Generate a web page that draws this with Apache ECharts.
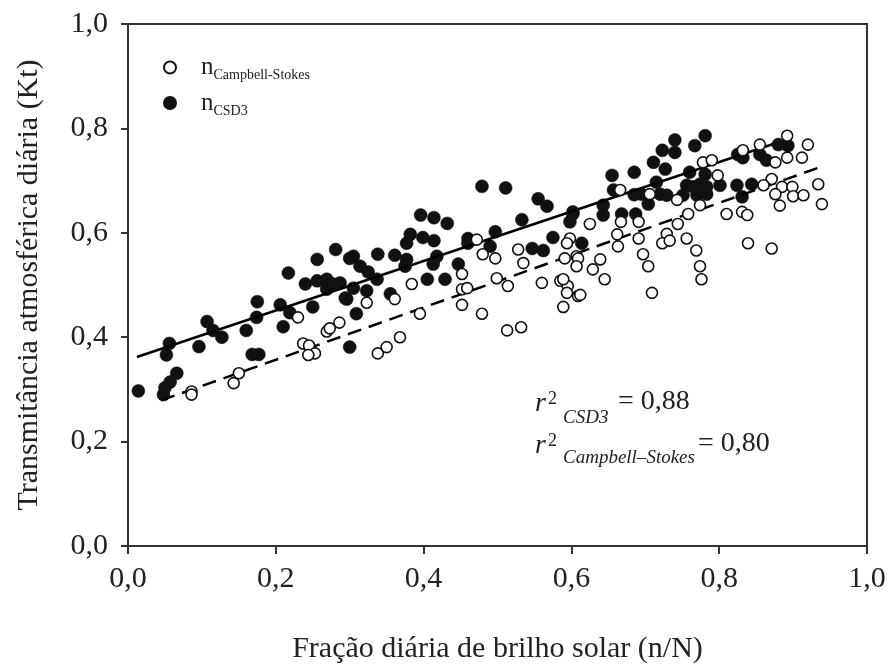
<!DOCTYPE html>
<html>
<head>
<meta charset="utf-8">
<script src="https://cdn.jsdelivr.net/npm/echarts@6/dist/echarts.min.js"></script>
<style>
  html, body { margin: 0; padding: 0; background: #fff; }
  #chart { width: 891px; height: 669px; }
</style>
</head>
<body>
<div id="chart"></div>
<script>
// n/N (x) vs Kt (y)
const csd3Points = [
  [0.014, 0.297], [0.048, 0.290], [0.050, 0.303], [0.057, 0.314], [0.066, 0.331], [0.052, 0.366],
  [0.056, 0.388], [0.096, 0.382], [0.107, 0.430], [0.115, 0.413], [0.127, 0.400], [0.160, 0.413],
  [0.168, 0.367], [0.177, 0.367], [0.174, 0.438], [0.175, 0.468], [0.206, 0.462], [0.219, 0.447],
  [0.210, 0.420], [0.250, 0.458], [0.217, 0.523], [0.240, 0.502], [0.256, 0.508], [0.256, 0.549],
  [0.281, 0.568], [0.269, 0.511], [0.277, 0.502], [0.287, 0.504], [0.269, 0.492], [0.296, 0.473],
  [0.300, 0.551], [0.300, 0.381], [0.305, 0.555], [0.314, 0.536], [0.325, 0.525], [0.337, 0.511],
  [0.338, 0.559], [0.361, 0.557], [0.377, 0.549], [0.375, 0.536], [0.305, 0.494], [0.323, 0.489],
  [0.294, 0.475], [0.355, 0.483], [0.309, 0.445], [0.382, 0.597], [0.377, 0.580], [0.399, 0.591],
  [0.414, 0.585], [0.396, 0.634], [0.414, 0.629], [0.432, 0.618], [0.418, 0.555], [0.413, 0.540],
  [0.447, 0.540], [0.405, 0.511], [0.429, 0.511], [0.460, 0.589], [0.460, 0.580], [0.479, 0.689],
  [0.511, 0.686], [0.497, 0.602], [0.490, 0.574], [0.533, 0.625], [0.555, 0.665], [0.567, 0.651],
  [0.575, 0.591], [0.547, 0.570], [0.562, 0.566], [0.602, 0.636], [0.598, 0.621], [0.602, 0.640],
  [0.614, 0.580], [0.643, 0.653], [0.643, 0.634], [0.668, 0.636], [0.687, 0.636], [0.655, 0.710],
  [0.685, 0.716], [0.657, 0.682], [0.685, 0.673], [0.695, 0.674], [0.704, 0.655], [0.711, 0.735],
  [0.727, 0.722], [0.715, 0.697], [0.720, 0.674], [0.729, 0.672], [0.723, 0.758], [0.740, 0.778],
  [0.740, 0.754], [0.781, 0.786], [0.767, 0.767], [0.760, 0.716], [0.756, 0.691], [0.765, 0.688],
  [0.774, 0.693], [0.781, 0.712], [0.783, 0.688], [0.801, 0.691], [0.751, 0.672], [0.770, 0.672],
  [0.783, 0.674], [0.825, 0.750], [0.832, 0.744], [0.855, 0.750], [0.864, 0.739], [0.880, 0.769],
  [0.893, 0.767], [0.824, 0.691], [0.831, 0.669], [0.844, 0.693]
]

const campbellPoints = [
  [0.086, 0.296], [0.086, 0.290], [0.143, 0.312], [0.150, 0.331], [0.230, 0.438], [0.237, 0.388],
  [0.245, 0.384], [0.253, 0.369], [0.244, 0.366], [0.269, 0.411], [0.286, 0.428], [0.273, 0.417],
  [0.338, 0.369], [0.350, 0.381], [0.368, 0.400], [0.323, 0.466], [0.361, 0.473], [0.384, 0.502],
  [0.395, 0.445], [0.452, 0.462], [0.452, 0.521], [0.452, 0.492], [0.459, 0.494], [0.479, 0.445],
  [0.472, 0.587], [0.480, 0.559], [0.497, 0.551], [0.499, 0.513], [0.514, 0.498], [0.513, 0.413],
  [0.532, 0.419], [0.528, 0.568], [0.535, 0.542], [0.560, 0.504], [0.585, 0.508], [0.595, 0.498],
  [0.594, 0.485], [0.609, 0.479], [0.589, 0.458], [0.598, 0.589], [0.594, 0.580], [0.591, 0.551],
  [0.607, 0.555], [0.609, 0.551], [0.607, 0.536], [0.589, 0.511], [0.612, 0.481], [0.625, 0.617],
  [0.639, 0.549], [0.629, 0.530], [0.645, 0.511], [0.662, 0.597], [0.663, 0.574], [0.667, 0.621],
  [0.691, 0.621], [0.666, 0.682], [0.691, 0.589], [0.697, 0.559], [0.704, 0.536], [0.709, 0.485],
  [0.706, 0.674], [0.729, 0.598], [0.723, 0.580], [0.733, 0.585], [0.743, 0.663], [0.744, 0.617],
  [0.756, 0.589], [0.758, 0.636], [0.769, 0.566], [0.774, 0.536], [0.776, 0.511], [0.774, 0.653],
  [0.778, 0.735], [0.790, 0.739], [0.798, 0.710], [0.810, 0.636], [0.831, 0.640], [0.838, 0.634],
  [0.839, 0.580], [0.871, 0.570], [0.832, 0.758], [0.855, 0.769], [0.892, 0.786], [0.920, 0.769],
  [0.892, 0.744], [0.912, 0.744], [0.876, 0.735], [0.871, 0.703], [0.885, 0.688], [0.899, 0.688],
  [0.860, 0.691], [0.876, 0.674], [0.900, 0.670], [0.914, 0.672], [0.882, 0.652], [0.934, 0.693],
  [0.939, 0.655]
]

// regression lines (end points)
const fitCSD3 = [[0.012, 0.362], [0.873, 0.770]]
const fitCampbell = [[0.045, 0.279], [0.939, 0.727]]

const xTickLabels = ['0,0', '0,2', '0,4', '0,6', '0,8', '1,0']
const yTickLabels = ['0,0', '0,2', '0,4', '0,6', '0,8', '1,0']

const SERIF = '"Liberation Serif", "Times New Roman", serif'
const AXIS_COLOR = '#333'

const chart = echarts.init(document.getElementById('chart'))

const tickFmt = (labels) => (v) => labels[Math.round(v / 0.2)]

chart.setOption({
  backgroundColor: '#fff',
  animation: false,
  grid: {
    left: 128,
    right: 24,
    top: 24,
    bottom: 116,
    show: true,
    borderColor: AXIS_COLOR,
    borderWidth: 2,
  },
  legend: {
    orient: 'vertical',
    left: 158,
    top: 50,
    itemWidth: 12,
    itemHeight: 12,
    itemGap: 8,
    icon: 'circle',
    data: ['campbell', 'csd3'],
    formatter: (name) =>
      name === 'csd3' ? '{n|n}{sub|CSD3}' : '{n|n}{sub|Campbell-Stokes}',
    textStyle: {
      padding: [0, 0, 0, 20],
      rich: {
        n: { fontFamily: SERIF, fontSize: 25, color: '#222', lineHeight: 30, verticalAlign: 'middle' },
        sub: { fontFamily: SERIF, fontSize: 14, color: '#222', lineHeight: 14, verticalAlign: 'bottom' },
      },
    },
  },
  xAxis: {
    type: 'value',
    min: 0,
    max: 1,
    interval: 0.2,
    name: 'Fração diária de brilho solar (n/N)',
    nameLocation: 'middle',
    nameGap: 88,
    nameTextStyle: { fontFamily: SERIF, fontSize: 30, color: '#222' },
    axisLine: { lineStyle: { color: AXIS_COLOR, width: 2 } },
    axisTick: { show: true, length: 8, lineStyle: { color: AXIS_COLOR, width: 2 } },
    axisLabel: { formatter: tickFmt(xTickLabels), fontFamily: SERIF, fontSize: 30, color: '#222', margin: 18 },
    splitLine: { show: false },
  },
  yAxis: {
    type: 'value',
    min: 0,
    max: 1,
    interval: 0.2,
    name: 'Transmitância atmosférica diária (Kt)',
    nameLocation: 'middle',
    nameGap: 84,
    nameTextStyle: { fontFamily: SERIF, fontSize: 30, color: '#222' },
    axisLine: { lineStyle: { color: AXIS_COLOR, width: 2 } },
    axisTick: { show: true, length: 7, lineStyle: { color: AXIS_COLOR, width: 2 } },
    axisLabel: { formatter: tickFmt(yTickLabels), fontFamily: SERIF, fontSize: 30, color: '#222', margin: 20 },
    splitLine: { show: false },
  },
  series: [
    {
      name: 'fitCSD3',
      type: 'line',
      data: fitCSD3,
      symbol: 'none',
      lineStyle: { color: '#000', width: 2.5 },
      z: 3,
    },
    {
      name: 'fitCampbell',
      type: 'line',
      data: fitCampbell,
      symbol: 'none',
      lineStyle: { color: '#000', width: 2.5, type: [14, 8] },
      z: 3,
    },
    {
      name: 'csd3',
      type: 'scatter',
      data: csd3Points,
      symbol: 'circle',
      symbolSize: 13,
      itemStyle: { color: '#111', borderColor: '#111', borderWidth: 0.5, opacity: 1 },
      z: 2,
    },
    {
      name: 'campbell',
      type: 'scatter',
      data: campbellPoints,
      symbol: 'circle',
      symbolSize: 11,
      itemStyle: { color: '#fff', borderColor: '#111', borderWidth: 1.6, opacity: 1 },
      z: 4,
    },
  ],
  graphic: [
    // r² annotations
    { type: 'text', left: 535, top: 390, style: { text: 'r', font: 'italic 28px ' + SERIF, fill: '#222' } },
    { type: 'text', left: 548, top: 390, style: { text: '2', font: '18px ' + SERIF, fill: '#222' } },
    { type: 'text', left: 563, top: 408, style: { text: 'CSD3', font: 'italic 19px ' + SERIF, fill: '#222' } },
    { type: 'text', left: 618, top: 388, style: { text: '= 0,88', font: '28px ' + SERIF, fill: '#222' } },
    { type: 'text', left: 535, top: 432, style: { text: 'r', font: 'italic 28px ' + SERIF, fill: '#222' } },
    { type: 'text', left: 548, top: 432, style: { text: '2', font: '18px ' + SERIF, fill: '#222' } },
    { type: 'text', left: 563, top: 448, style: { text: 'Campbell–Stokes', font: 'italic 19px ' + SERIF, fill: '#222' } },
    { type: 'text', left: 698, top: 430, style: { text: '= 0,80', font: '28px ' + SERIF, fill: '#222' } },
  ],
})
</script>
</body>
</html>
